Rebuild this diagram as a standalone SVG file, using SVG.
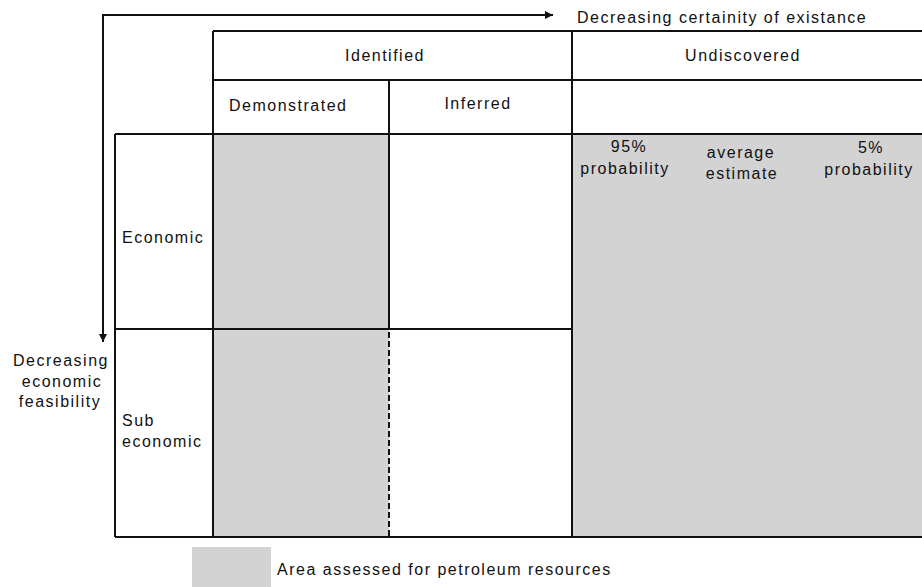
<svg xmlns="http://www.w3.org/2000/svg" width="922" height="587" viewBox="0 0 922 587">
<style>
text{font-family:"Liberation Sans",Arial,sans-serif;font-size:16px;letter-spacing:1.5px;fill:#111}
.m{text-anchor:middle}
.ln{stroke:#111;stroke-width:2;fill:none}
.fill{fill:#d3d3d3}
</style>
<defs>
<marker id="ah" viewBox="0 0 10 10" refX="10" refY="5" markerWidth="4.5" markerHeight="4" orient="auto" markerUnits="strokeWidth">
<path d="M0,0 L10,5 L0,10 z" fill="#111"/>
</marker>
</defs>
<rect width="922" height="587" fill="#fff"/>
<g id="shading">
<rect class="fill" x="213" y="134" width="176" height="403"/>
<rect class="fill" x="572" y="134" width="350" height="403"/>
</g>
<g id="grid">
<line class="ln" x1="213" y1="31" x2="922" y2="31"/>
<line class="ln" x1="213" y1="80" x2="922" y2="80"/>
<line class="ln" x1="115" y1="134" x2="922" y2="134"/>
<line class="ln" x1="115" y1="537" x2="922" y2="537"/>
<line class="ln" x1="115" y1="329" x2="572" y2="329"/>
<line class="ln" x1="115" y1="134" x2="115" y2="537"/>
<line class="ln" x1="213" y1="31" x2="213" y2="537"/>
<line class="ln" x1="572" y1="31" x2="572" y2="537"/>
<line class="ln" x1="389" y1="80" x2="389" y2="329"/>
<line class="ln" x1="389" y1="332" x2="389" y2="537" stroke-dasharray="6 3"/>
</g>
<g id="connectors">
<polyline class="ln" points="553,15 103,15 103,342" stroke-width="1.8" marker-end="url(#ah)"/>
<line class="ln" x1="540" y1="15" x2="553" y2="15" stroke-width="1.8" marker-end="url(#ah)"/>
</g>
<g id="certainty-label"><text x="577" y="23">Decreasing certainity of existance</text></g>
<g id="identified"><text class="m" x="385" y="61">Identified</text></g>
<g id="undiscovered"><text class="m" x="743" y="61">Undiscovered</text></g>
<g id="demonstrated"><text x="229" y="111">Demonstrated</text></g>
<g id="inferred"><text class="m" x="478" y="109">Inferred</text></g>
<g id="p95"><text class="m" x="629" y="152">95%</text><text class="m" x="625" y="174">probability</text></g>
<g id="average"><text class="m" x="741" y="158">average</text><text class="m" x="742" y="179">estimate</text></g>
<g id="p5"><text class="m" x="871" y="153">5%</text><text class="m" x="869" y="175">probability</text></g>
<g id="economic"><text x="122" y="243">Economic</text></g>
<g id="subeconomic"><text x="122" y="426">Sub</text><text x="122" y="447">economic</text></g>
<g id="feasibility-label"><text class="m" x="61" y="366">Decreasing</text><text class="m" x="62" y="387">economic</text><text class="m" x="60" y="407">feasibility</text></g>
<g id="legend">
<rect class="fill" x="192" y="547" width="79" height="40"/>
<text x="277" y="575">Area assessed for petroleum resources</text>
</g>
</svg>
